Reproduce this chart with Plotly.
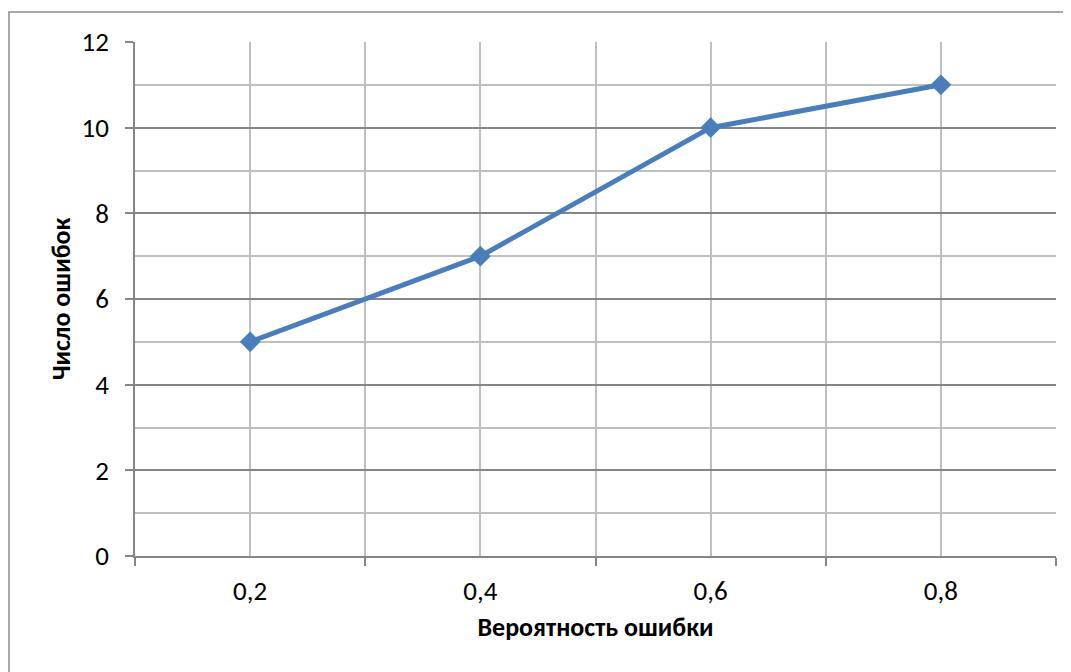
import plotly.graph_objects as go

x_vals = [0.2, 0.4, 0.6, 0.8]
x_labels = ["0,2", "0,4", "0,6", "0,8"]
errors = [5, 7, 10, 11]
boundaries = [0.1, 0.3, 0.5, 0.7, 0.9]

FONT = "Carlito, Lato, 'Open Sans', sans-serif"
BLUE = "#4a7ebb"

fig = go.Figure()
fig.add_trace(go.Scatter(
    x=x_vals, y=errors, mode="lines+markers",
    line=dict(color=BLUE, width=5),
    marker=dict(symbol="diamond", size=16, color=BLUE),
    showlegend=False, cliponaxis=False,
))

fig.update_xaxes(
    range=[0.1, 0.9], tickmode="array", tickvals=x_vals, ticktext=x_labels,
    ticks="", showgrid=True, gridcolor="#bfbfbf", gridwidth=1.5,
    showline=True, linecolor="#868686", linewidth=1.5,
    zeroline=False, ticklabelstandoff=10,
    tickfont=dict(family=FONT, size=27, color="#000"),
    minor=dict(tickmode="array", tickvals=boundaries, ticks="outside", ticklen=8,
               tickcolor="#868686", tickwidth=1.5, showgrid=True, gridcolor="#bfbfbf", gridwidth=1.5),
    title=dict(text="<b>Вероятность ошибки</b>", font=dict(family=FONT, size=26, color="#000"), standoff=12),
)
fig.update_yaxes(
    range=[0, 12], tick0=0, dtick=2, ticks="outside", ticklen=8,
    tickcolor="#868686", tickwidth=1.5,
    showgrid=True, gridcolor="#868686", gridwidth=1.5,
    showline=True, linecolor="#868686", linewidth=1.5, zeroline=False,
    ticklabelstandoff=11,
    tickfont=dict(family=FONT, size=27, color="#000"),
    minor=dict(dtick=1, showgrid=True, gridcolor="#bfbfbf", gridwidth=1.5, ticks=""),
    title=dict(text="<b>Число ошибок</b>", font=dict(family=FONT, size=26, color="#000"), standoff=3),
)

fig.add_shape(type="rect", xref="paper", yref="paper",
              x0=(9 - 135) / 921, x1=1.2, y0=-0.5, y1=(556 - 12) / 514,
              line=dict(color="#8c8c8c", width=1.5), fillcolor="rgba(0,0,0,0)", layer="below")

fig.update_layout(
    width=1063, height=664,
    margin=dict(l=127, r=15, t=34, b=116),
    plot_bgcolor="white", paper_bgcolor="white",
)

fig.write_html("out.html")
